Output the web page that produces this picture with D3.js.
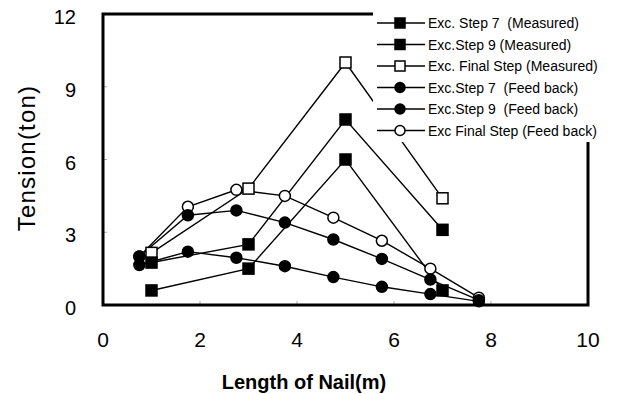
<!DOCTYPE html>
<html>
<head>
<meta charset="utf-8">
<script src="https://cdn.jsdelivr.net/npm/d3@7"></script>
<style>
  html, body { margin: 0; padding: 0; background: #fff; }
  svg { display: block; }
</style>
</head>
<body>
<svg id="chart" width="618" height="394"></svg>
<script>
// measured at nail heads 1,3,5,7 m; feedback analysis at 0.75 m steps
const measuredX = [1, 3, 5, 7];
const step7Measured = [0.6, 1.5, 6.0, 0.6];
const step9Measured = [1.75, 2.5, 7.65, 3.1];
const finalMeasured = [2.15, 4.8, 10.0, 4.4];

const feedbackX = [0.75, 1.75, 2.75, 3.75, 4.75, 5.75, 6.75, 7.75];
const step7Feedback = [1.65, 2.2, 1.95, 1.6, 1.15, 0.75, 0.45, 0.15];
const step9Feedback = [2.0, 3.7, 3.9, 3.4, 2.7, 1.9, 1.05, 0.2];
const finalFeedback = [2.0, 4.05, 4.75, 4.5, 3.6, 2.65, 1.5, 0.3];

const xTicks = [0, 2, 4, 6, 8, 10];
const yTicks = [0, 3, 6, 9, 12];

const series = [
  { name: 'Exc. Step 7  (Measured)', xs: measuredX, ys: step7Measured, shape: 'square', filled: true },
  { name: 'Exc.Step 9 (Measured)', xs: measuredX, ys: step9Measured, shape: 'square', filled: true },
  { name: 'Exc. Final Step (Measured)', xs: measuredX, ys: finalMeasured, shape: 'square', filled: false },
  { name: 'Exc.Step 7  (Feed back)', xs: feedbackX, ys: step7Feedback, shape: 'circle', filled: true },
  { name: 'Exc.Step 9  (Feed back)', xs: feedbackX, ys: step9Feedback, shape: 'circle', filled: true },
  { name: 'Exc Final Step (Feed back)', xs: feedbackX, ys: finalFeedback, shape: 'circle', filled: false }
];
// markers go down open circles first so the filled ones sit on top
const markerOrder = [5, 4, 3, 2, 1, 0];

const svg = d3.select('#chart');
const font = 'Liberation Sans, Arial, sans-serif';

const x = d3.scaleLinear().domain([0, 10]).range([103, 588]);
const y = d3.scaleLinear().domain([0, 12]).range([305, 14]);

// faint inner ticks
const inner = svg.append('g').attr('stroke', '#aaa').attr('stroke-width', 1);
yTicks.slice(1, -1).forEach((v) => {
  inner.append('line').attr('x1', x(0)).attr('x2', x(0) + 4).attr('y1', y(v)).attr('y2', y(v));
});
xTicks.slice(1, -1).forEach((v) => {
  inner.append('line').attr('x1', x(v)).attr('x2', x(v)).attr('y1', y(0)).attr('y2', y(0) - 4);
});

function drawMarker(g, shape, filled, cx, cy, size) {
  if (shape === 'square') {
    g.append('rect')
      .attr('x', cx - size / 2)
      .attr('y', cy - size / 2)
      .attr('width', size)
      .attr('height', size)
      .attr('fill', filled ? '#000' : '#fff')
      .attr('stroke', '#000')
      .attr('stroke-width', 1.5);
  } else {
    g.append('circle')
      .attr('cx', cx)
      .attr('cy', cy)
      .attr('r', size / 2)
      .attr('fill', filled ? '#000' : '#fff')
      .attr('stroke', '#000')
      .attr('stroke-width', 1.5);
  }
}

const line = d3.line().x((d) => x(d[0])).y((d) => y(d[1]));

const plot = svg.append('g');
series.forEach((s) => {
  const pts = s.xs.map((v, i) => [v, s.ys[i]]);
  plot.append('path')
    .attr('d', line(pts))
    .attr('fill', 'none')
    .attr('stroke', '#000')
    .attr('stroke-width', 1.4);
});
markerOrder.forEach((k) => {
  const s = series[k];
  s.xs.forEach((v, i) => drawMarker(plot, s.shape, s.filled, x(v), y(s.ys[i]), 11));
});

// frame
svg.append('rect')
  .attr('x', x(0))
  .attr('y', y(12))
  .attr('width', x(10) - x(0))
  .attr('height', y(0) - y(12))
  .attr('fill', 'none')
  .attr('stroke', '#000')
  .attr('stroke-width', 3);

// legend sits on a white block that hides the top-right corner
const legend = svg.append('g');
legend.append('rect')
  .attr('x', 373)
  .attr('y', 0)
  .attr('width', 245)
  .attr('height', 142)
  .attr('fill', '#fff');
series.forEach((s, i) => {
  const ly = 23 + i * 21.5;
  legend.append('line')
    .attr('x1', 377).attr('x2', 425)
    .attr('y1', ly).attr('y2', ly)
    .attr('stroke', '#000').attr('stroke-width', 1.4);
  drawMarker(legend, s.shape, s.filled, 400, ly, 10);
  legend.append('text')
    .attr('x', 428)
    .attr('y', ly + 5)
    .attr('font-family', font)
    .attr('font-size', 14)
    .style('white-space', 'pre')
    .text(s.name);
});

// tick labels
svg.append('g')
  .selectAll('text')
  .data(yTicks)
  .join('text')
  .attr('x', 76)
  .attr('y', (d) => y(d) + 10)
  .attr('text-anchor', 'end')
  .attr('font-family', font)
  .attr('font-size', 20)
  .text((d) => d);

svg.append('g')
  .selectAll('text')
  .data(xTicks)
  .join('text')
  .attr('x', (d) => x(d))
  .attr('y', 347)
  .attr('text-anchor', 'middle')
  .attr('font-family', font)
  .attr('font-size', 21)
  .text((d) => d);

// axis titles
svg.append('text')
  .attr('transform', 'translate(35,158) rotate(-90)')
  .attr('text-anchor', 'middle')
  .attr('font-family', font)
  .attr('font-size', 24)
  .attr('letter-spacing', 1.2)
  .text('Tension(ton)');

svg.append('text')
  .attr('x', 304)
  .attr('y', 389)
  .attr('text-anchor', 'middle')
  .attr('font-family', font)
  .attr('font-size', 20)
  .attr('font-weight', 'bold')
  .text('Length of Nail(m)');
</script>
</body>
</html>
